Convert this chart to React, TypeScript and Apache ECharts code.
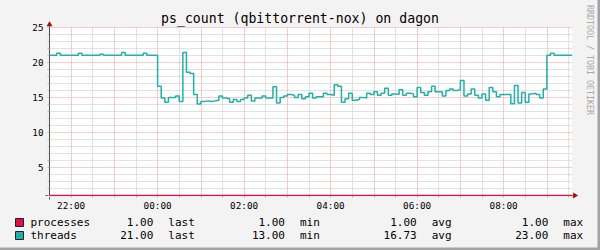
import React, { useEffect, useRef } from 'react';
import * as echarts from 'echarts';

// Time axis: hours relative to 00:00 (22:00 = -2), 5-minute RRD steps
const startHour = -2.5;
const stepMinutes = 5;
const threadsValues = [
  21, 21, 21.3, 21, 21, 21, 21, 21, 21.3, 21,
  21, 21, 21, 21, 21.15, 21, 21, 21, 21, 21,
  21.4, 21, 21, 21, 21, 21, 21.3, 21, 21, 21,
  16.6, 14.9, 14.3, 15.0, 15.0, 15.2, 14.4, 21.4, 18.6, 18.4,
  15.4, 14.05, 14.4, 14.5, 14.4, 14.5, 14.6, 15.2, 14.9, 14.8,
  14.3, 14.7, 14.4, 14.7, 14.9, 15.3, 14.5, 14.9, 14.9, 15.2,
  14.9, 14.9, 16.5, 14.2, 15.0, 15.2, 15.4, 15.3, 15.0, 15.4,
  14.8, 15.1, 15.6, 14.9, 15.1, 15.1, 15.6, 15.4, 15.3, 16.8,
  16.6, 14.3, 14.8, 15.6, 14.6, 14.7, 15.0, 14.9, 15.6, 15.4,
  15.8, 15.3, 15.6, 16.3, 15.3, 15.5, 15.4, 16.1, 15.3, 15.6,
  15.5, 15.1, 16.4, 15.7, 15.3, 15.8, 16.6, 15.8, 15.8, 15.2,
  16.0, 16.2, 16.0, 16.1, 17.4, 15.2, 15.5, 16.2, 15.3, 14.9,
  15.5, 14.6, 16.4, 15.8, 15.1, 15.4, 15.4, 15.4, 14.1, 16.7,
  14.2, 15.7, 14.3, 15.5, 15.6, 15.4, 14.9, 16.2, 21.0, 21.3,
  21, 21, 21, 21, 21,
];
const endHour = startHour + (threadsValues.length * stepMinutes) / 60;
const processesTimes = [startHour, endHour];
const processesValues = [1, 1];

const yMin = 1;
const yMax = 25;
const xLabelHours = [-2, 0, 2, 4, 6, 8];

const titleText = 'ps_count (qbittorrent-nox) on dagon';
const legendNames = ['processes', 'threads'];
const seriesColors = ['#dd1144', '#20b2aa'];
const statNames = ['last', 'min', 'avg', 'max'];
const statValues = [
  ['1.00', '1.00', '1.00', '1.00'],
  ['21.00', '13.00', '16.73', '23.00'],
];
const watermark = 'RRDTOOL / TOBI OETIKER';

const MONO = "'DejaVu Sans Mono', monospace";

export default function App() {
  const ref = useRef<HTMLDivElement>(null);

  useEffect(() => {
    if (!ref.current) return;
    const chart = echarts.init(ref.current, undefined, { renderer: 'svg' });

    const gridLeft = 49.5;
    const gridRight = 27.9;
    const gridTop = 27.3;
    const gridBottom = 54.5;
    const W = 600;
    const H = 250;
    const axisY = H - gridBottom;
    const plotRight = W - gridRight;

    const threadsData: [number, number][] = threadsValues.map((v, i) => [
      startHour + (i * stepMinutes) / 60,
      v,
    ]);
    threadsData.push([endHour, threadsValues[threadsValues.length - 1]]);
    const processesData = processesTimes.map((t, i) => [t, processesValues[i]]);

    const grey = '#c4c4c4';
    const red = '#ee9a9a';

    const rowY = [222, 235.5];
    const valueRight = [153.3, 285, 416.7, 548.3];
    const nameLeft = [168.3, 300, 431.7, 563.3];
    const statGraphics: any[] = [];
    statValues.forEach((row, r) => {
      row.forEach((val, c) => {
        statGraphics.push({
          type: 'text',
          x: valueRight[c],
          y: rowY[r],
          style: {
            text: val,
            fill: '#000',
            font: `11px ${MONO}`,
            textAlign: 'right',
            textVerticalAlign: 'middle',
          },
        });
        statGraphics.push({
          type: 'text',
          x: nameLeft[c],
          y: rowY[r],
          style: {
            text: statNames[c],
            fill: '#000',
            font: `11px ${MONO}`,
            textAlign: 'left',
            textVerticalAlign: 'middle',
          },
        });
      });
    });

    const fmtHour = (v: number) => {
      const h = Math.round(v * 60) / 60;
      if (!xLabelHours.includes(h)) return '';
      const hh = ((h % 24) + 24) % 24;
      return (hh < 10 ? '0' : '') + hh + ':00';
    };

    const arrowColor = '#a01010';
    const axisColor = '#4a4a4a';

    chart.setOption({
      animation: false,
      backgroundColor: '#f3f3f3',
      title: {
        text: titleText,
        left: 'center',
        top: 12,
        padding: 0,
        textStyle: {
          fontFamily: MONO,
          fontSize: 13.2,
          fontWeight: 'normal',
          color: '#000',
        },
      },
      legend: {
        data: legendNames,
        orient: 'vertical',
        left: 15,
        top: 216.5,
        padding: 0,
        itemWidth: 8,
        itemHeight: 8,
        itemGap: 1,
        icon: 'rect',
        selectedMode: false,
        itemStyle: { borderColor: '#222', borderWidth: 1 },
        textStyle: {
          fontFamily: MONO,
          fontSize: 11,
          color: '#000',
          lineHeight: 12,
          padding: [0, 0, 0, 2],
        },
      },
      grid: {
        left: gridLeft,
        right: gridRight,
        top: gridTop,
        bottom: gridBottom,
        show: true,
        backgroundColor: '#ffffff',
        borderWidth: 0,
      },
      xAxis: {
        type: 'value',
        min: startHour,
        max: endHour,
        interval: 0.5,
        axisLine: { show: true, onZero: false, lineStyle: { color: axisColor, width: 1 } },
        axisTick: { show: true, length: 2, lineStyle: { color: '#b8b8b8' } },
        axisLabel: {
          fontFamily: MONO,
          fontSize: 9.3,
          color: '#000',
          margin: 5.5,
          formatter: fmtHour,
          showMinLabel: true,
          showMaxLabel: true,
        },
        splitLine: {
          show: true,
          showMaxLine: false,
          lineStyle: { color: [grey, red], type: [1, 1], width: 1 },
        },
      },
      yAxis: {
        type: 'value',
        min: yMin,
        max: yMax,
        interval: 1,
        axisLine: { show: true, onZero: false, lineStyle: { color: axisColor, width: 1 } },
        axisTick: { show: true, length: 2, lineStyle: { color: '#b8b8b8' } },
        axisLabel: {
          fontFamily: MONO,
          fontSize: 9.3,
          color: '#000',
          margin: 6,
          formatter: (v: number) => (v % 5 === 0 ? String(v) : ''),
        },
        splitLine: {
          show: true,
          lineStyle: { color: [grey, grey, grey, grey, red], type: [1, 1], width: 1 },
        },
      },
      series: [
        {
          name: legendNames[0],
          type: 'line',
          data: processesData,
          showSymbol: false,
          color: seriesColors[0],
          lineStyle: { color: seriesColors[0], width: 1.5 },
          z: 3,
        },
        {
          name: legendNames[1],
          type: 'line',
          step: 'end',
          data: threadsData,
          showSymbol: false,
          color: seriesColors[1],
          lineStyle: { color: seriesColors[1], width: 1.5 },
          z: 4,
        },
      ],
      graphic: [
        { type: 'rect', shape: { x: 0, y: H - 2.5, width: W, height: 2.5 }, style: { fill: '#a3a3a3' } },
        { type: 'rect', shape: { x: W - 2.5, y: 0, width: 2.5, height: H }, style: { fill: '#a3a3a3' } },
        { type: 'line', shape: { x1: gridLeft - 4, y1: axisY, x2: gridLeft, y2: axisY }, style: { stroke: axisColor, lineWidth: 1 } },
        { type: 'line', shape: { x1: plotRight, y1: axisY, x2: plotRight + 4, y2: axisY }, style: { stroke: axisColor, lineWidth: 1 } },
        { type: 'line', shape: { x1: gridLeft, y1: axisY, x2: gridLeft, y2: axisY + 4 }, style: { stroke: axisColor, lineWidth: 1 } },
        { type: 'line', shape: { x1: gridLeft, y1: gridTop - 3, x2: gridLeft, y2: gridTop }, style: { stroke: axisColor, lineWidth: 1 } },
        {
          type: 'polygon',
          shape: { points: [[plotRight + 1, axisY - 3], [plotRight + 6, axisY], [plotRight + 1, axisY + 3]] },
          style: { fill: arrowColor },
        },
        {
          type: 'polygon',
          shape: { points: [[gridLeft - 3, gridTop - 1], [gridLeft, gridTop - 6], [gridLeft + 3, gridTop - 1]] },
          style: { fill: arrowColor },
        },
        {
          type: 'text',
          x: 590,
          y: 5,
          rotation: -Math.PI / 2,
          style: {
            text: watermark,
            fill: '#a8a8a8',
            font: `8.3px ${MONO}`,
            textAlign: 'left',
            textVerticalAlign: 'middle',
          },
        },
        ...statGraphics,
      ],
    });

    return () => {
      chart.dispose();
    };
  }, []);

  return (
    <div
      ref={ref}
      style={{ position: 'fixed', left: 0, top: 0, width: 600, height: 250 }}
    />
  );
}
